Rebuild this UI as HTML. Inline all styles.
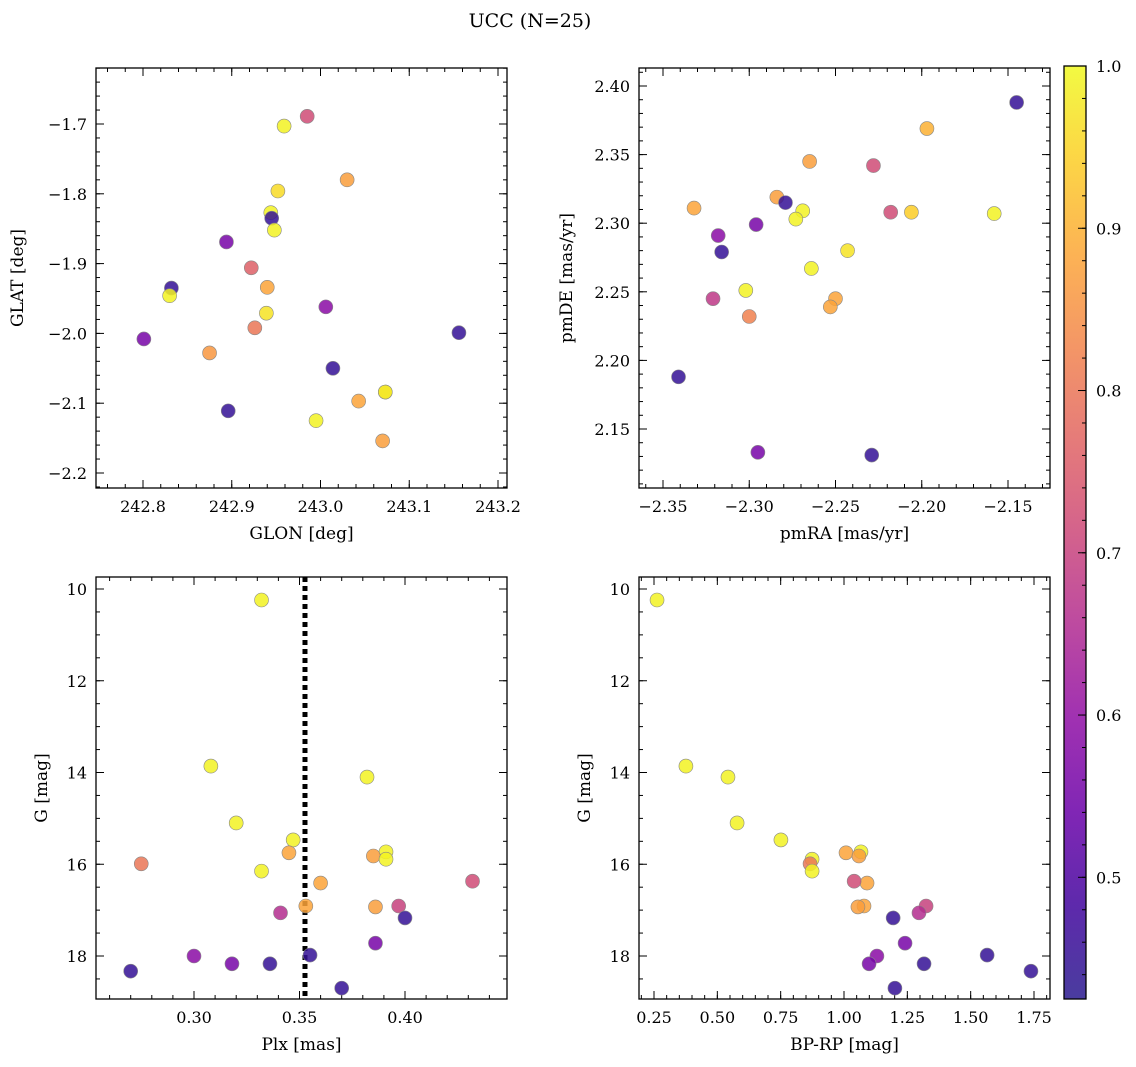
<!DOCTYPE html>
<html><head><meta charset="utf-8">
<style>
html,body{margin:0;padding:0;background:#fff;}
svg{display:block;font-family:"DejaVu Serif","Liberation Serif",serif;}
</style></head>
<body>
<svg id="fig" width="1136" height="1067" viewBox="0 0 1136 1067" xmlns="http://www.w3.org/2000/svg">
<defs>
<linearGradient id="plasma" x1="0" y1="1" x2="0" y2="0">
<stop offset="0" stop-color="#2a1a8e"/><stop offset="0.1" stop-color="#41049d"/><stop offset="0.2" stop-color="#6a00a8"/><stop offset="0.3" stop-color="#8f0da4"/><stop offset="0.4" stop-color="#b12a90"/><stop offset="0.5" stop-color="#cc4778"/><stop offset="0.6" stop-color="#e16462"/><stop offset="0.7" stop-color="#f2844b"/><stop offset="0.8" stop-color="#fca636"/><stop offset="0.9" stop-color="#fcce25"/><stop offset="1" stop-color="#f0f921"/>
</linearGradient>
</defs>
<text x="530" y="27" text-anchor="middle" font-size="19">UCC (N=25)</text>
</svg>
<script>
// ---- data ----
const tlGlon=[242.985,242.959,243.030,242.952,242.944,242.945,242.948,242.894,242.922,242.832,242.830,242.940,243.006,242.939,242.926,242.801,243.156,242.875,243.014,243.073,243.073,243.043,242.896,242.995,243.070];
const tlGlat=[-1.689,-1.703,-1.780,-1.796,-1.827,-1.835,-1.852,-1.869,-1.906,-1.935,-1.946,-1.934,-1.962,-1.971,-1.992,-2.008,-1.999,-2.028,-2.050,-2.084,-2.084,-2.097,-2.111,-2.125,-2.154];
const tlProb=[0.72,0.99,0.87,0.96,0.99,0.45,0.99,0.56,0.76,0.45,0.99,0.88,0.59,0.97,0.8,0.56,0.45,0.86,0.45,0.88,0.99,0.88,0.45,0.99,0.87];
const trPmra=[-2.145,-2.197,-2.265,-2.228,-2.332,-2.284,-2.279,-2.269,-2.273,-2.218,-2.206,-2.158,-2.296,-2.318,-2.316,-2.243,-2.264,-2.302,-2.321,-2.250,-2.253,-2.300,-2.341,-2.295,-2.229];
const trPmde=[2.388,2.369,2.345,2.342,2.311,2.319,2.315,2.309,2.303,2.308,2.308,2.307,2.299,2.291,2.279,2.280,2.267,2.251,2.245,2.245,2.239,2.232,2.188,2.133,2.131];
const trProb=[0.45,0.9,0.87,0.72,0.88,0.87,0.45,0.99,0.99,0.72,0.94,0.99,0.56,0.59,0.45,0.97,0.99,0.99,0.68,0.88,0.88,0.82,0.45,0.56,0.45];
const blPlx=[0.332,0.308,0.382,0.320,0.347,0.345,0.391,0.385,0.391,0.275,0.332,0.360,0.432,0.353,0.386,0.397,0.341,0.400,0.386,0.300,0.355,0.318,0.336,0.270,0.370];
const blG=[10.24,13.86,14.10,15.10,15.47,15.75,15.73,15.82,15.89,15.99,16.15,16.41,16.37,16.91,16.93,16.91,17.06,17.17,17.72,18.00,17.98,18.17,18.17,18.33,18.70];
const brBprp=[0.262,0.376,0.542,0.578,0.751,1.008,1.067,1.059,0.874,0.866,0.874,1.091,1.040,1.079,1.055,1.324,1.296,1.194,1.241,1.130,1.565,1.099,1.316,1.738,1.201];
const brG=blG;
const bothProb=[0.99,0.99,0.99,0.99,0.99,0.88,0.99,0.87,0.99,0.8,0.99,0.88,0.72,0.88,0.87,0.7,0.66,0.45,0.56,0.59,0.45,0.56,0.45,0.45,0.45];
const plxLine=0.3526;
const cbTicks=[0.5,0.6,0.7,0.8,0.9,1.0];
const VMIN=0.425, VMAX=1.0;

const NS="http://www.w3.org/2000/svg";
const svg=document.getElementById('fig');
function mk(tag,attrs,parent){const e=document.createElementNS(NS,tag);for(const k in attrs)e.setAttribute(k,attrs[k]);(parent||svg).appendChild(e);return e;}
const stops=[[0,[42,26,142]],[0.1,[65,4,157]],[0.2,[106,0,168]],[0.3,[143,13,164]],[0.4,[177,42,144]],[0.5,[204,71,120]],[0.6,[225,100,98]],[0.7,[242,132,75]],[0.8,[252,166,54]],[0.9,[252,206,37]],[1,[240,249,33]]];
function plasma(v){let t=(v-VMIN)/(VMAX-VMIN);t=Math.max(0,Math.min(1,t));for(let i=1;i<stops.length;i++){if(t<=stops[i][0]){const a=stops[i-1],b=stops[i];const f=(t-a[0])/(b[0]-a[0]);const c=a[1].map((x,j)=>Math.round(x+(b[1][j]-x)*f));return `rgb(${c[0]},${c[1]},${c[2]})`;}}return 'rgb(240,249,33)';}
function fmt(v,d){let s=v.toFixed(d);return s.replace('-','\u2212');}

function panel(o){
  const g=mk('g',{});
  
  
  const X=v=>o.px0+(v-o.xa)*(o.px1-o.px0)/(o.xb-o.xa);
  const Y=v=>o.py0+(v-o.ya)*(o.py1-o.py0)/(o.yb-o.ya);
  const L=o.L,R=o.R,T=o.T,B=o.B;
  function xt(v,len){const x=X(v);if(x<L-0.5||x>R+0.5)return;mk('line',{x1:x,x2:x,y1:B,y2:B-len,stroke:'#000','stroke-width':1},g);mk('line',{x1:x,x2:x,y1:T,y2:T+len,stroke:'#000','stroke-width':1},g);}
  function yt(v,len){const y=Y(v);if(y<T-0.5||y>B+0.5)return;mk('line',{x1:L,x2:L+len,y1:y,y2:y,stroke:'#000','stroke-width':1},g);mk('line',{x1:R,x2:R-len,y1:y,y2:y,stroke:'#000','stroke-width':1},g);}
  for(let v=o.xmin0;v<=o.xmax0+1e-9;v+=o.xminor)xt(v,4);
  for(let v=o.ymin0;v<=o.ymax0+1e-9;v+=o.yminor)yt(v,4);
  o.xticks.forEach(v=>{xt(v,8);const t=mk('text',{x:X(v),y:B+24,'text-anchor':'middle','font-size':16},g);t.textContent=fmt(v,o.xd);});
  o.yticks.forEach(v=>{yt(v,8);const t=mk('text',{x:L-9,y:Y(v)+6,'text-anchor':'end','font-size':16},g);t.textContent=fmt(v,o.yd);});
  if(o.vline!==undefined){const l=mk('line',{x1:X(o.vline),x2:X(o.vline),y1:T,y2:B,stroke:'#000','stroke-width':5,'stroke-dasharray':'5,4'},g);}
  for(let i=0;i<o.xs.length;i++){
    const c=mk('circle',{cx:X(o.xs[i]),cy:Y(o.ys[i]),r:7,fill:plasma(o.cs[i]),'fill-opacity':0.85,stroke:'#888','stroke-width':0.6},g);
    
    
  }
  const fr=mk('rect',{x:L,y:T,width:R-L,height:B-T,fill:'none',stroke:'#000','stroke-width':1.3},g);
  
  const xl=mk('text',{x:(L+R)/2,y:B+51,'text-anchor':'middle','font-size':17},g);xl.textContent=o.xlabel;
  const yl=mk('text',{x:0,y:0,'text-anchor':'middle','font-size':17,transform:`translate(${o.ylx},${(T+B)/2}) rotate(-90)`},g);yl.textContent=o.ylabel;
}

panel({name:'glon-glat-panel',L:96,R:507,T:68,B:488,xa:242.8,xb:243.2,px0:143,px1:498,ya:-1.7,yb:-2.2,py0:124,py1:473,
 xmin0:242.76,xmax0:243.22,xminor:0.02,ymin0:-2.24,ymax0:-1.6,yminor:0.02,
 xticks:[242.8,242.9,243.0,243.1,243.2],yticks:[-1.7,-1.8,-1.9,-2.0,-2.1,-2.2],xd:1,yd:1,
 xs:tlGlon,ys:tlGlat,cs:tlProb,xlabel:'GLON [deg]',ylabel:'GLAT [deg]',ylx:23});
panel({name:'proper-motion-panel',L:639,R:1050,T:68,B:488,xa:-2.35,xb:-2.15,px0:663,px1:1008,ya:2.40,yb:2.15,py0:86,py1:429,
 xmin0:-2.37,xmax0:-2.12,xminor:0.01,ymin0:2.10,ymax0:2.42,yminor:0.01,
 xticks:[-2.35,-2.30,-2.25,-2.20,-2.15],yticks:[2.15,2.20,2.25,2.30,2.35,2.40],xd:2,yd:2,
 xs:trPmra,ys:trPmde,cs:trProb,xlabel:'pmRA [mas/yr]',ylabel:'pmDE [mas/yr]',ylx:572});
panel({name:'parallax-g-panel',L:96,R:507,T:577,B:999,xa:0.30,xb:0.40,px0:194,px1:405,ya:10,yb:18,py0:589,py1:956,
 xmin0:0.25,xmax0:0.45,xminor:0.01,ymin0:9.5,ymax0:19,yminor:0.5,
 xticks:[0.30,0.35,0.40],yticks:[10,12,14,16,18],xd:2,yd:0,vline:plxLine,
 xs:blPlx,ys:blG,cs:bothProb,xlabel:'Plx [mas]',ylabel:'G [mag]',ylx:47});
panel({name:'cmd-panel',L:639,R:1050,T:577,B:999,xa:0.25,xb:1.75,px0:654,px1:1034,ya:10,yb:18,py0:589,py1:956,
 xmin0:0.2,xmax0:1.8,xminor:0.05,ymin0:9.5,ymax0:19,yminor:0.5,
 xticks:[0.25,0.5,0.75,1.0,1.25,1.5,1.75],yticks:[10,12,14,16,18],xd:2,yd:0,
 xs:brBprp,ys:brG,cs:bothProb,xlabel:'BP-RP [mag]',ylabel:'G [mag]',ylx:590});

// colorbar
const cb=mk('g',{});


const CT=66,CB=999,CL=1064,CR=1086;
const CY=v=>CB-(v-VMIN)/(VMAX-VMIN)*(CB-CT);
mk('rect',{x:CL,y:CT,width:CR-CL,height:CB-CT,fill:'url(#plasma)','fill-opacity':0.85},cb);
for(let v=0.44;v<=1.0001;v+=0.02){mk('line',{x1:CR,x2:CR-4,y1:CY(v),y2:CY(v),stroke:'#000','stroke-width':1},cb);}
cbTicks.forEach(v=>{mk('line',{x1:CR,x2:CR-8,y1:CY(v),y2:CY(v),stroke:'#000','stroke-width':1},cb);const t=mk('text',{x:CR+10,y:CY(v)+6,'font-size':16},cb);t.textContent=v.toFixed(1);});
mk('rect',{x:CL,y:CT,width:CR-CL,height:CB-CT,fill:'none',stroke:'#000','stroke-width':1.3},cb);
</script>
</body></html>
